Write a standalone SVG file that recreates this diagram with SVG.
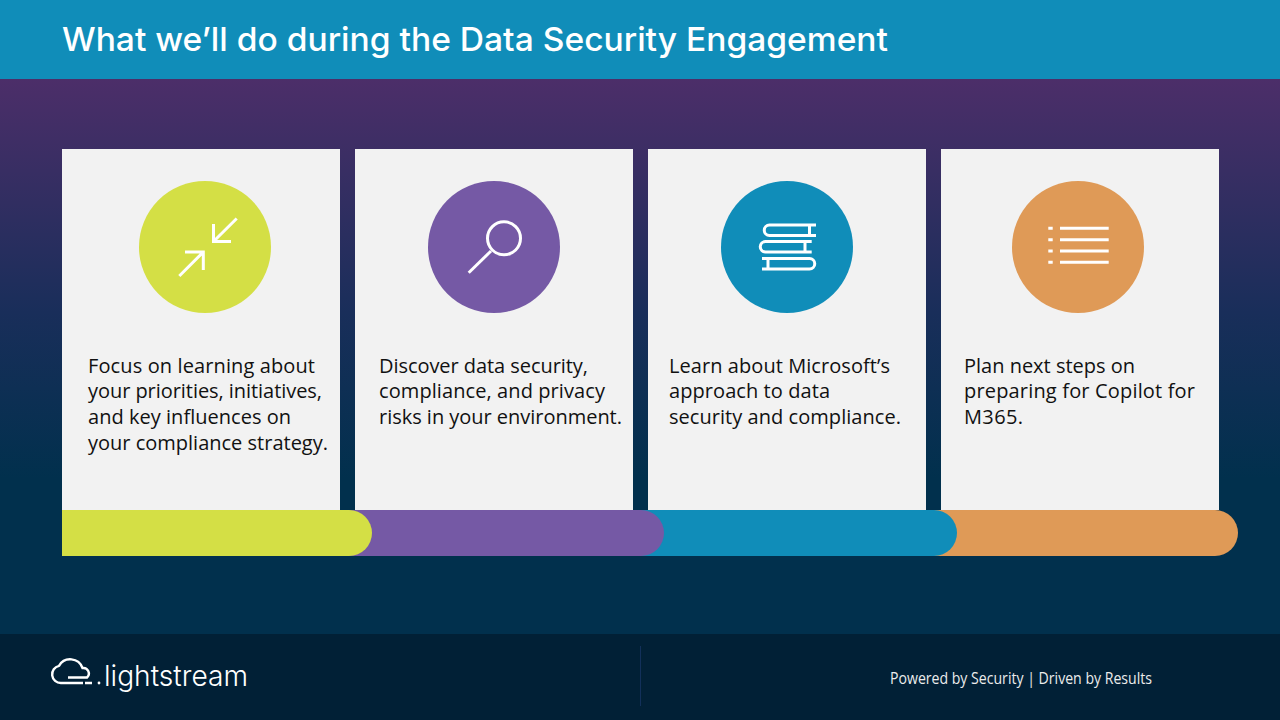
<svg xmlns="http://www.w3.org/2000/svg" width="1280" height="720" viewBox="0 0 1280 720">
<style>
.card{fill:#f2f2f2}
.body{font-family:"Open Sans","Noto Sans","Liberation Sans",sans-serif;font-size:20px;fill:#111}
.ic{fill:none;stroke:#fff;stroke-width:3}
</style>
<defs>
<linearGradient id="bg" x1="0" y1="79" x2="0" y2="634" gradientUnits="userSpaceOnUse">
<stop offset="0" stop-color="#4c2e69"/>
<stop offset="0.42" stop-color="#192e5a"/>
<stop offset="0.72" stop-color="#01304d"/>
<stop offset="1" stop-color="#01304d"/>
</linearGradient>
</defs>
<rect width="1280" height="720" fill="url(#bg)"/>
<rect id="header" width="1280" height="79" fill="#108db9"/>
<text id="title" x="62" y="51" font-family="Inter,'Open Sans',sans-serif" font-size="33" font-weight="500" fill="#fff" textLength="826" lengthAdjust="spacingAndGlyphs">What we’ll do during the Data Security Engagement</text>
<g id="bars">
<path d="M930 510H1215a23 23 0 0 1 0 46H930Z" fill="#df9a57"/>
<path d="M640 510H934a23 23 0 0 1 0 46H640Z" fill="#108db9"/>
<path d="M340 510H641a23 23 0 0 1 0 46H340Z" fill="#7559a5"/>
<path d="M62 510H349a23 23 0 0 1 0 46H62Z" fill="#d4df45"/>
</g>
<g id="card1">
<rect class="card" x="62" y="149" width="278" height="361"/>
<circle cx="205" cy="247" r="66" fill="#d4df45"/>
<path class="ic" d="M236.700 218.500L213.500 241.500M213.500 224V241.500H231M179.300 276L203.300 252M185 252H203.300V270"/>
<text class="body"><tspan x="88" y="373" textLength="227">Focus on learning about</tspan><tspan x="88" y="398" textLength="234">your priorities, initiatives,</tspan><tspan x="88" y="424" textLength="203">and key influences on</tspan><tspan x="88" y="450" textLength="240">your compliance strategy.</tspan></text>
</g>
<g id="card2">
<rect class="card" x="355" y="149" width="278" height="361"/>
<circle cx="494" cy="247" r="66" fill="#7559a5"/>
<circle class="ic" cx="504" cy="238.300" r="16.500"/>
<path class="ic" d="M491 251L468.700 272.700"/>
<text class="body"><tspan x="379" y="373" textLength="209">Discover data security,</tspan><tspan x="379" y="398" textLength="226">compliance, and privacy</tspan><tspan x="379" y="424" textLength="243">risks in your environment.</tspan></text>
</g>
<g id="card3">
<rect class="card" x="648" y="149" width="278" height="361"/>
<circle cx="787" cy="247" r="66" fill="#108db9"/>
<path class="ic" stroke-width="2.500" d="M816 225H769.500a5.200 5.200 0 0 0 0 10.500H816M809.500 225V235.500M811.700 241.500H765.500a5.200 5.200 0 0 0 0 10.500H811.700M805 241.500V252M762 258.500H809.500a5.200 5.200 0 0 1 0 10.500H762M768 258.500V269"/>
<text class="body"><tspan x="669" y="373" textLength="221">Learn about Microsoft’s</tspan><tspan x="669" y="398" textLength="161">approach to data</tspan><tspan x="669" y="424" textLength="232">security and compliance.</tspan></text>
</g>
<g id="card4">
<rect class="card" x="941" y="149" width="278" height="361"/>
<circle cx="1078" cy="247" r="66" fill="#df9a57"/>
<path class="ic" d="M1060 228.300H1108.700M1060 239.700H1108.700M1060 251H1108.700M1060 262.300H1108.700M1048.300 228.300H1052.700M1048.300 239.700H1052.700M1048.300 251H1052.700M1048.300 262.300H1052.700"/>
<text class="body"><tspan x="964" y="373" textLength="171">Plan next steps on</tspan><tspan x="964" y="398" textLength="231">preparing for Copilot for</tspan><tspan x="964" y="424" textLength="59">M365.</tspan></text>
</g>
<g id="footer">
<rect y="634" width="1280" height="86" fill="#012036"/>
<rect x="640" y="646" width="1" height="60" fill="#12305a"/>
<path d="M83 683H61a8.700 8.700 0 0 1-2-17.200A13 13 0 0 1 82.500 668a5.500 5.500 0 0 1 4.500 9.500H68M85 683H92" fill="none" stroke="#fff" stroke-width="2.400"/>
<circle cx="99" cy="683" r="1.400" fill="#fff"/>
<text x="104" y="686" font-family="Inter,Lato,sans-serif" font-size="29" font-weight="300" fill="#fff" textLength="144" lengthAdjust="spacingAndGlyphs">lightstream</text>
<text x="890" y="684" font-family="'Open Sans','Noto Sans',sans-serif" font-size="16" fill="#ececec" textLength="262" lengthAdjust="spacingAndGlyphs">Powered by Security | Driven by Results</text>
</g>
</svg>
